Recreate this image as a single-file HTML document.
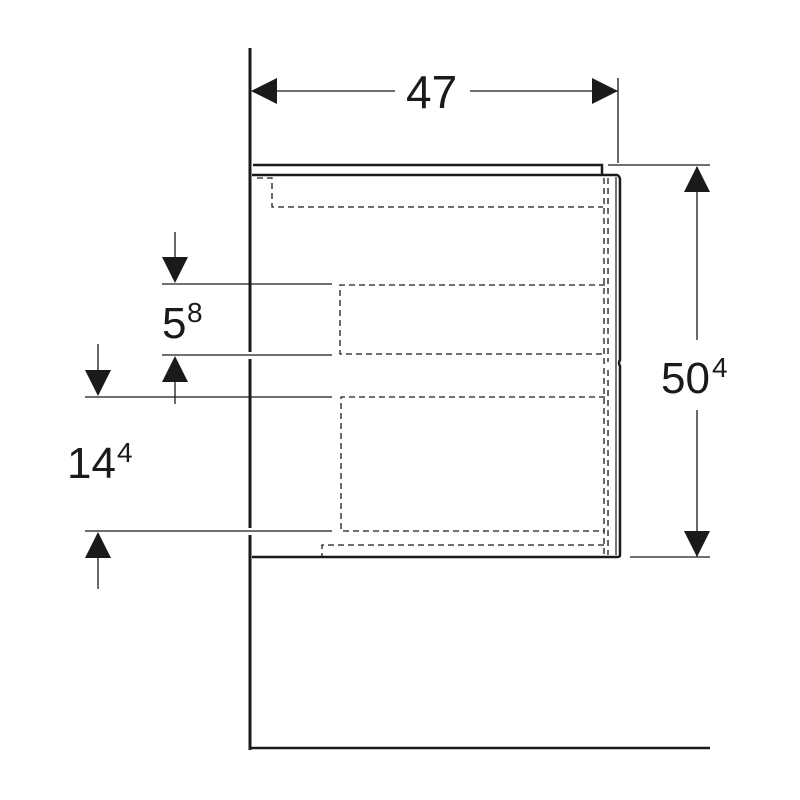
<!DOCTYPE html>
<html><head><style>html,body{margin:0;padding:0;background:#fff}svg{display:block}</style></head>
<body>
<svg width="800" height="800" viewBox="0 0 800 800" xmlns="http://www.w3.org/2000/svg" font-family="Liberation Sans, Arial, sans-serif">
<rect width="800" height="800" fill="#fff"/>
<g stroke="#1a1a1a" fill="none">
<!-- wall -->
<line x1="250" y1="48" x2="250" y2="352" stroke-width="3"/>
<line x1="250" y1="359" x2="250" y2="528" stroke-width="3"/>
<line x1="250" y1="535" x2="250" y2="750" stroke-width="3"/>
<!-- floor -->
<line x1="249" y1="748" x2="710" y2="748" stroke-width="2.5"/>
<!-- cabinet -->
<path d="M253 165 H602 V175" stroke-width="2.5"/>
<path d="M252 175 H617 Q620 176 620 180 V360 Q618 363 620 366 V555 Q620 557 617 557 H252" stroke-width="2.5"/>
<line x1="616" y1="177" x2="616" y2="555" stroke-width="1.2"/>
<!-- dashed -->
<g stroke-width="1.3" stroke-dasharray="6,4">
<path d="M257 178 H272 V207 H603"/>
<line x1="604" y1="178" x2="604" y2="555"/>
<line x1="608" y1="178" x2="608" y2="362"/>
<line x1="608" y1="370" x2="608" y2="555"/>
<path d="M605 285 H340 V354 H605"/>
<path d="M605 397 H341 V531 H605"/>
<path d="M604 545 H322 V556"/>
</g>
<!-- extension lines -->
<g stroke-width="1.3">
<line x1="162" y1="284" x2="332" y2="284"/>
<line x1="162" y1="355" x2="332" y2="355"/>
<line x1="85" y1="397" x2="332" y2="397"/>
<line x1="85" y1="531" x2="332" y2="531"/>
<line x1="618" y1="78" x2="618" y2="163"/>
<line x1="608" y1="165" x2="710" y2="165"/>
<line x1="630" y1="557" x2="710" y2="557"/>
<!-- dim lines -->
<line x1="252" y1="91" x2="395" y2="91"/>
<line x1="470" y1="91" x2="618" y2="91"/>
<line x1="697" y1="167" x2="697" y2="340"/>
<line x1="697" y1="410" x2="697" y2="557"/>
<line x1="175" y1="232" x2="175" y2="260"/>
<line x1="175" y1="380" x2="175" y2="404"/>
<line x1="98" y1="344" x2="98" y2="372"/>
<line x1="98" y1="556" x2="98" y2="589"/>
</g>
</g>
<g fill="#1a1a1a">
<polygon points="251,91 277,78 277,104"/>
<polygon points="618,91 592,78 592,104"/>
<polygon points="697,166 684,192 710,192"/>
<polygon points="697,557 684,531 710,531"/>
<polygon points="175,283 162,257 188,257"/>
<polygon points="175,356 162,382 188,382"/>
<polygon points="98,396 85,370 111,370"/>
<polygon points="98,532 85,558 111,558"/>
</g>
<g fill="#1a1a1a">
<text x="406" y="108" font-size="46">47</text>
<text x="162" y="338" font-size="44">5</text><text x="187" y="322" font-size="28">8</text>
<text x="67" y="478" font-size="44">14</text><text x="117" y="462" font-size="28">4</text>
<text x="661" y="393" font-size="44">50</text><text x="712" y="377" font-size="28">4</text>
</g>
</svg>
</body></html>
